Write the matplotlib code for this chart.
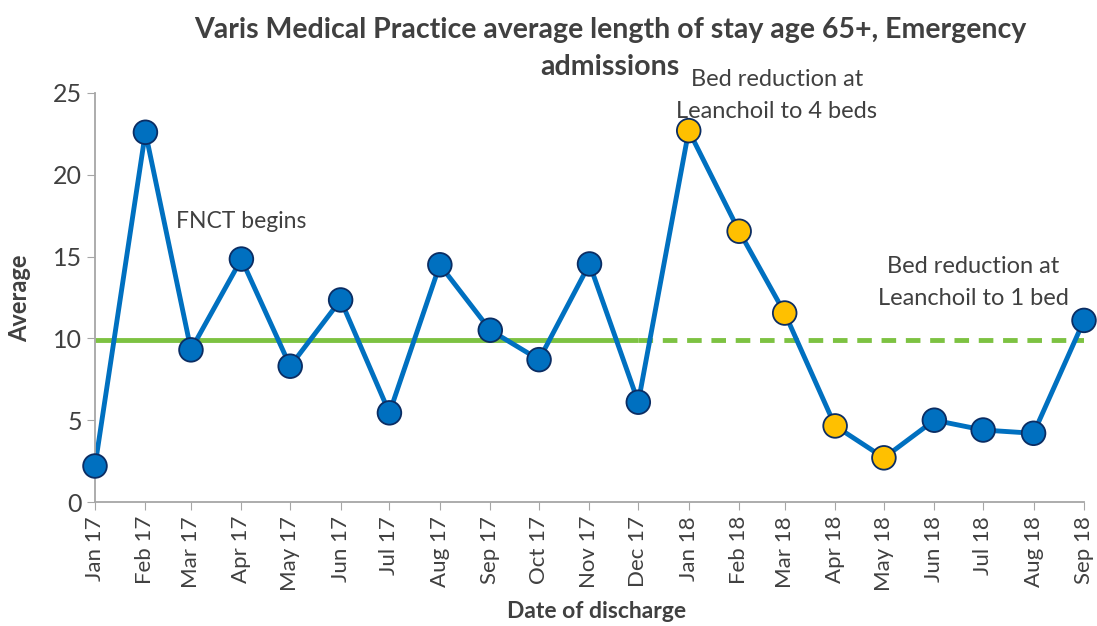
import pandas as pd
import numpy as np
import matplotlib
matplotlib.use('Agg')
import matplotlib.pyplot as plt

plt.rcParams['font.family'] = ['Lato', 'DejaVu Sans']

# monthly data
months = ['Jan 17', 'Feb 17', 'Mar 17', 'Apr 17', 'May 17', 'Jun 17', 'Jul 17',
          'Aug 17', 'Sep 17', 'Oct 17', 'Nov 17', 'Dec 17', 'Jan 18', 'Feb 18',
          'Mar 18', 'Apr 18', 'May 18', 'Jun 18', 'Jul 18', 'Aug 18', 'Sep 18']
avg_stay = [2.2, 22.6, 9.3, 14.85, 8.3, 12.35, 5.45, 14.5, 10.5, 8.7, 14.55, 6.1,
            22.7, 16.55, 11.55, 4.65, 2.7, 5.0, 4.4, 4.2, 11.1]
highlight = [False] * 12 + [True] * 5 + [False] * 4
median = 9.9

dates = pd.to_datetime(months, format='%b %y')
blue = '#0070C0'
yellow = '#FFC000'
edge = '#0B2D63'
green = '#7DC242'
grey_txt = '#404040'

fig = plt.figure(figsize=(10.97, 6.26), dpi=100)
ax = fig.add_axes([95 / 1097, 1 - 502 / 626, (1084 - 95) / 1097, (502 - 93) / 626])

# median line: solid for baseline year, dashed extension
ax.plot(dates[:12], [median] * 12, color=green, lw=3.5, zorder=1, solid_capstyle='butt')
ax.plot(dates[11:], [median] * len(dates[11:]), color=green, lw=3.5, ls=(0, (3, 2)),
        zorder=1)

ax.plot(dates, avg_stay, color=blue, lw=3.5, zorder=2)
cols = [yellow if h else blue for h in highlight]
ax.scatter(dates, avg_stay, s=290, c=cols, edgecolors=edge, linewidths=1.3, zorder=3,
           clip_on=False)

ax.set_xlim(dates[0], dates[-1])
ax.set_ylim(0, 25)
ax.set_yticks([0, 5, 10, 15, 20, 25])
ax.set_xticks(dates)
ax.set_xticklabels(months, rotation=90, fontsize=16, color=grey_txt)
ax.tick_params(axis='y', labelsize=18, colors=grey_txt, length=6, color='#A6A6A6')
ax.tick_params(axis='x', length=6, color='#A6A6A6', pad=4)
for s in ['top', 'right']:
    ax.spines[s].set_visible(False)
for s in ['left', 'bottom']:
    ax.spines[s].set_color('#A6A6A6')
    ax.spines[s].set_linewidth(1.3)

title_kw = dict(ha='center', va='center', fontsize=20.5, fontweight='bold', color=grey_txt)
fig.text(610 / 1097, 1 - 30 / 626,
         'Varis Medical Practice average length of stay age 65+, Emergency', **title_kw)
fig.text(610 / 1097, 1 - 67 / 626, 'admissions', **title_kw)
fig.text(20 / 1097, 1 - 298 / 626, 'Average', rotation=90, ha='center', va='center',
         fontsize=17, fontweight='bold', color=grey_txt)
fig.text(597 / 1097, 1 - 611 / 626, 'Date of discharge', ha='center', va='center',
         fontsize=16.5, fontweight='bold', color=grey_txt)

note_kw = dict(ha='center', va='center', fontsize=17, color=grey_txt)
fig.text(241 / 1097, 1 - 221 / 626, 'FNCT begins', **dict(note_kw, fontsize=16.5))
fig.text(777 / 1097, 1 - 79 / 626, 'Bed reduction at', **note_kw)
fig.text(777 / 1097, 1 - 112 / 626, 'Leanchoil to 4 beds', **note_kw)
fig.text(973 / 1097, 1 - 266 / 626, 'Bed reduction at', **note_kw)
fig.text(973 / 1097, 1 - 298 / 626, 'Leanchoil to 1 bed', **note_kw)

fig.savefig('out.png', dpi=100)
